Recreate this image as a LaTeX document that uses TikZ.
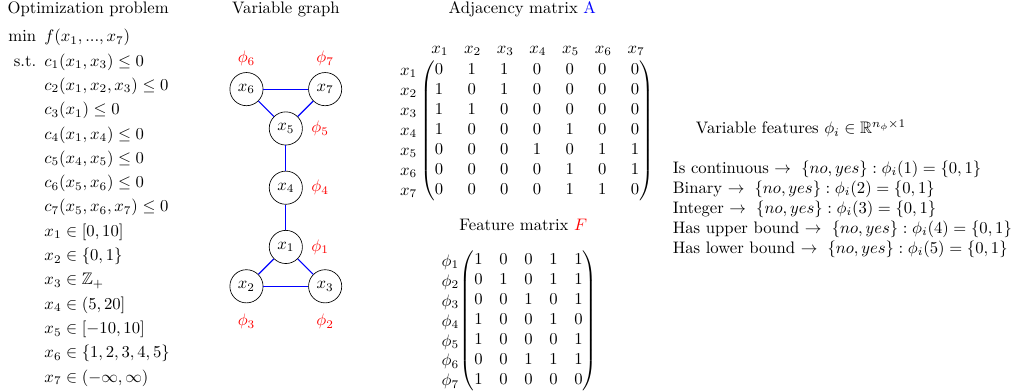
\documentclass[tikz,border=0pt]{standalone}
\usepackage{amsmath}
\usepackage{amssymb}
\usepackage{tikz}
\usetikzlibrary{positioning}
\setlength{\jot}{2.6pt}

\begin{document}
\begin{tikzpicture}[
  varnode/.style={draw, circle, minimum size=0.7cm, inner sep=0pt},
  featlabel/.style={text=red, inner sep=1pt},
  link/.style={blue, line width=0.7pt}
]
\useasboundingbox (0,0) rectangle (21.33,-8.27);
% titles
\node (tprob) at (1.86,-0.2) {Optimization problem};
\node (tgraph) at (6.03,-0.2) {Variable graph};
\node (tadj) at (11.02,-0.2) {Adjacency matrix {\color{blue}A}};
\node (tfeat) at (11.04,-4.75) {Feature matrix $\color{red}F$};
\node (tvar) at (16.90,-2.71) {Variable features $\phi_i \in \mathbb{R}^{n_\phi \times 1}$};
% problem
\node[anchor=base west, inner sep=0pt] (prob) at (0.17,-0.88) {$\begin{aligned}[t]
  \min\enspace & f(x_1,...,x_7)\\
  \text{s.t.}\enspace & c_1(x_1,x_3) \leq 0\\
  & c_2(x_1,x_2,x_3) \leq 0\\
  & c_3(x_1) \leq 0\\
  & c_4(x_1,x_4) \leq 0\\
  & c_5(x_4,x_5) \leq 0\\
  & c_6(x_5,x_6) \leq 0\\
  & c_7(x_5,x_6,x_7) \leq 0\\
  & x_1 \in [0,10]\\
  & x_2 \in \{0,1\}\\
  & x_3 \in \mathbb{Z}_+\\
  & x_4 \in (5,20]\\
  & x_5 \in [-10,10]\\
  & x_6 \in \{1,2,3,4,5\}\\
  & x_7 \in (-\infty,\infty)
\end{aligned}$};
% graph
\node[varnode] (x5) at (6.03,-2.71) {$x_5$};
\node[varnode] (x4) at (6.03,-3.96) {$x_4$};
\node[varnode] (x1) at (6.03,-5.21) {$x_1$};
\node[varnode] (x6) at (5.20,-1.88) {$x_6$};
\node[varnode] (x7) at (6.86,-1.88) {$x_7$};
\node[varnode] (x2) at (5.20,-6.04) {$x_2$};
\node[varnode] (x3) at (6.86,-6.04) {$x_3$};
\node[featlabel, above=0.9mm of x6] (p6) {$\phi_6$};
\node[featlabel, above=0.9mm of x7] (p7) {$\phi_7$};
\node[featlabel, right=1.4mm of x5] (p5) {$\phi_5$};
\node[featlabel, right=1.4mm of x4] (p4) {$\phi_4$};
\node[featlabel, right=1.4mm of x1] (p1) {$\phi_1$};
\node[featlabel, below=1.9mm of x2] (p3) {$\phi_3$};
\node[featlabel, below=1.9mm of x3] (p2) {$\phi_2$};
\draw[link] (x6) -- (x7);
\draw[link] (x6) -- (x5);
\draw[link] (x7) -- (x5);
\draw[link] (x5) -- (x4);
\draw[link] (x4) -- (x1);
\draw[link] (x1) -- (x2);
\draw[link] (x1) -- (x3);
\draw[link] (x2) -- (x3);
% adjacency matrix
\node (adj) at (11.33,-2.76) {\setlength{\arraycolsep}{7.3pt}$\begin{pmatrix}
  0 & 1 & 1 & 0 & 0 & 0 & 0\\
  1 & 0 & 1 & 0 & 0 & 0 & 0\\
  1 & 1 & 0 & 0 & 0 & 0 & 0\\
  1 & 0 & 0 & 0 & 1 & 0 & 0\\
  0 & 0 & 0 & 1 & 0 & 1 & 1\\
  0 & 0 & 0 & 0 & 1 & 0 & 1\\
  0 & 0 & 0 & 0 & 1 & 1 & 0
\end{pmatrix}$};
\foreach \j in {1,...,7} {
  \node (adjc\j) at ({9.28+0.69*(\j-1)},-1.07) {$x_{\j}$};
  \node (adjr\j) at (8.62,{-2.80-0.4218*(\j-4)}) {$x_{\j}$};
}
% feature matrix
\node (feat) at (11.15,-6.77) {$\begin{pmatrix}
  1 & 0 & 0 & 1 & 1\\
  0 & 1 & 0 & 1 & 1\\
  0 & 0 & 1 & 0 & 1\\
  1 & 0 & 0 & 1 & 0\\
  1 & 0 & 0 & 0 & 1\\
  0 & 0 & 1 & 1 & 1\\
  1 & 0 & 0 & 0 & 0
\end{pmatrix}$};
\foreach \i in {1,...,7}
  \node (featr\i) at (9.50,{-6.79-0.4218*(\i-4)}) {$\phi_{\i}$};
% features list
\node[anchor=north west, align=left, inner sep=0pt] (flist) at (14.19,-3.38) {%
  Is continuous $\rightarrow\ \{no, yes\} : \phi_i(1) = \{0,1\}$\\
  Binary $\rightarrow\ \{no, yes\} : \phi_i(2) = \{0,1\}$\\
  Integer $\rightarrow\ \{no, yes\} : \phi_i(3) = \{0,1\}$\\
  Has upper bound $\rightarrow\ \{no, yes\} : \phi_i(4) = \{0,1\}$\\
  Has lower bound $\rightarrow\ \{no, yes\} : \phi_i(5) = \{0,1\}$};
\end{tikzpicture}
\end{document}
